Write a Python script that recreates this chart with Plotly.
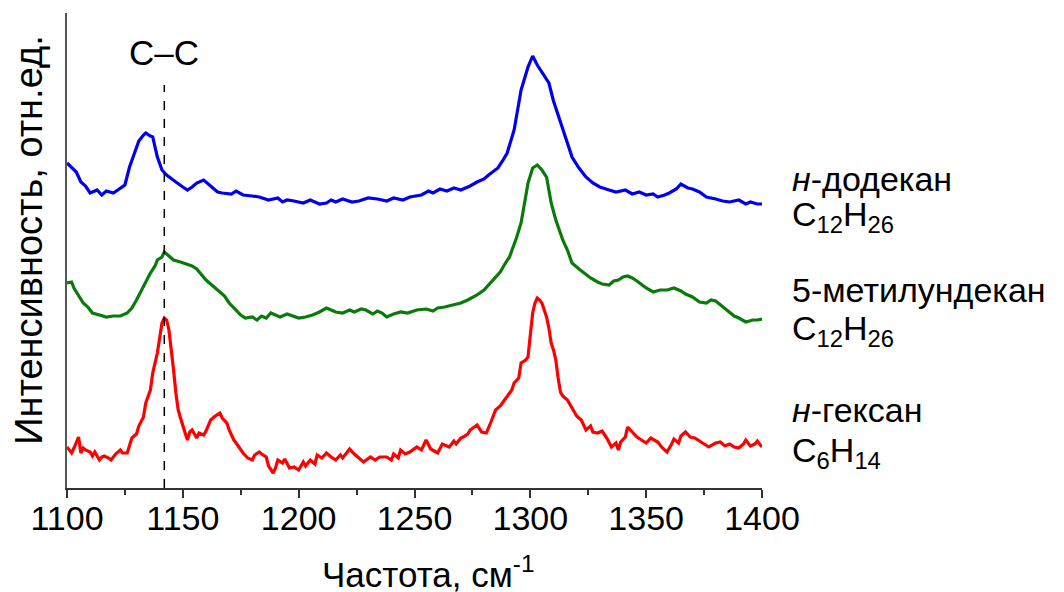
import plotly.graph_objects as go

# Wavenumber axis values (cm^-1) and intensities (arb. units, offset stacked)
dodecane_x = [1100,1102,1104,1106,1108,1110,1113,1115,1117,1120,1123,1125,1127,1129,1131,1133,1134,1136,1137,1139,1141,1143,1145,1147,1150,1152,1154,1156,1159,1161,1163,1165,1167,1171,1173,1176,1180,1183,1187,1191,1193,1195,1198,1202,1205,1209,1212,1214,1216,1219,1223,1226,1230,1234,1238,1241,1245,1248,1253,1256,1258,1261,1264,1267,1270,1274,1277,1280,1282,1286,1288,1290,1293,1296,1299,1301,1303,1306,1308,1310,1314,1318,1321,1324,1327,1330,1334,1337,1341,1344,1347,1350,1353,1355,1358,1360,1363,1365,1368,1370,1373,1376,1380,1383,1386,1390,1393,1395,1398,1400]
dodecane_y = [325,320,316,306,302,295,298,293,297,295,300,303,321,335,347,353,355,352,351,331,318,313,309,306,301,298,301,305,308,304,301,296,295,294,297,293,292,291,288,290,286,288,287,285,288,284,285,288,286,289,286,287,290,289,287,290,288,291,293,297,295,299,297,300,298,302,306,309,313,320,327,335,358,398,421,432,423,413,405,387,358,331,320,311,305,301,298,296,298,294,296,293,294,291,293,295,299,304,300,299,296,291,289,287,286,288,284,286,284,284]

methylundecane_x = [1100,1102,1103,1105,1107,1109,1111,1114,1117,1120,1123,1126,1128,1130,1132,1134,1136,1138,1139,1141,1142,1144,1146,1149,1152,1154,1156,1158,1160,1163,1166,1168,1170,1173,1175,1177,1180,1182,1184,1186,1188,1190,1192,1195,1198,1200,1203,1206,1209,1212,1214,1216,1219,1222,1224,1227,1229,1232,1234,1236,1238,1241,1244,1247,1251,1255,1258,1260,1263,1265,1268,1270,1273,1277,1280,1283,1285,1287,1289,1291,1294,1296,1299,1301,1303,1305,1307,1309,1311,1314,1316,1318,1321,1323,1326,1329,1331,1334,1336,1338,1340,1342,1344,1346,1348,1350,1353,1356,1359,1362,1365,1367,1370,1373,1376,1378,1380,1383,1386,1388,1390,1393,1396,1398,1400]
methylundecane_y = [205,206,200,192,185,181,175,173,171,172,172,175,180,188,197,206,215,222,228,231,236,232,228,226,224,222,219,214,208,202,196,192,185,178,173,170,171,168,172,170,175,173,171,174,172,170,171,173,176,180,178,176,175,178,176,179,178,174,177,175,171,174,176,175,178,179,177,180,181,182,184,185,188,193,198,206,211,216,224,231,250,265,305,320,323,318,311,285,268,248,238,225,219,215,210,206,204,203,207,208,211,212,210,207,203,200,196,198,198,200,197,194,191,186,185,188,187,181,176,172,170,166,168,168,169]

hexane_x = [1100,1101,1102,1103,1104,1105,1106,1107,1108,1110,1111,1112,1114,1115,1116,1118,1119,1121,1123,1124,1126,1127,1128,1130,1131,1133,1134,1136,1137,1139,1140,1141,1142,1143,1144,1145,1146,1147,1148,1149,1150,1151,1152,1153,1154,1156,1157,1159,1160,1162,1164,1166,1167,1169,1170,1172,1173,1175,1176,1178,1180,1181,1183,1184,1186,1187,1189,1190,1191,1193,1194,1196,1198,1200,1202,1203,1205,1207,1208,1210,1212,1214,1216,1218,1219,1221,1222,1224,1226,1228,1231,1233,1235,1238,1240,1241,1243,1244,1246,1248,1251,1253,1255,1257,1260,1262,1265,1267,1268,1270,1271,1273,1274,1276,1277,1279,1281,1283,1285,1287,1290,1292,1293,1295,1296,1298,1299,1300,1301,1302,1303,1304,1305,1306,1307,1308,1309,1310,1311,1312,1313,1314,1316,1318,1320,1322,1324,1326,1327,1329,1331,1333,1335,1337,1338,1339,1341,1342,1344,1346,1348,1350,1352,1355,1357,1359,1361,1362,1364,1365,1367,1369,1371,1373,1375,1377,1380,1382,1384,1386,1388,1390,1392,1393,1395,1397,1398,1400]
hexane_y = [41,38,35,40,45,51,35,40,38,36,32,36,28,31,32,30,28,34,38,35,35,44,50,54,62,71,85,98,115,135,150,165,170,168,158,140,118,95,78,70,61,55,48,56,58,50,55,53,57,68,72,75,70,65,58,48,45,38,35,30,28,33,36,34,31,22,15,20,28,25,29,20,21,18,26,22,28,24,33,30,35,31,28,33,30,36,39,34,30,26,31,28,31,31,28,34,30,38,34,36,41,38,48,39,35,44,41,47,44,50,51,54,58,62,63,56,55,66,78,82,91,98,105,110,125,128,131,150,175,185,190,188,185,178,171,160,145,138,128,110,96,92,88,80,72,68,58,62,56,55,57,50,41,45,38,46,51,61,56,51,48,45,50,46,40,36,44,49,45,52,56,51,50,47,44,41,45,46,42,44,41,40,44,48,42,44,47,41,46,41]

# Annotation texts
label_cc = "C–C"
cc_position = 1142
labels_right = [
    ("<i>н</i>-додекан", 0.651),
    ("C<sub>12</sub>H<sub>26</sub>", 0.571),
    ("5-метилундекан", 0.416),
    ("C<sub>12</sub>H<sub>26</sub>", 0.331),
    ("<i>н</i>-гексан", 0.164),
    ("C<sub>6</sub>H<sub>14</sub>", 0.075),
]
x_ticks = [1100, 1150, 1200, 1250, 1300, 1350, 1400]

FONT = "Liberation Sans, Arial, sans-serif"

fig = go.Figure()
fig.add_trace(go.Scatter(x=dodecane_x, y=dodecane_y, mode="lines",
                         line=dict(color="#0000ee", width=3.2), showlegend=False))
fig.add_trace(go.Scatter(x=methylundecane_x, y=methylundecane_y, mode="lines",
                         line=dict(color="#0a7a0a", width=3.2), showlegend=False))
fig.add_trace(go.Scatter(x=hexane_x, y=hexane_y, mode="lines",
                         line=dict(color="#ff0000", width=3.2), showlegend=False))

# dashed C-C marker
fig.add_trace(go.Scatter(x=[cc_position, cc_position], y=[0, 403], mode="lines",
                         line=dict(color="black", width=1.5, dash="dash"),
                         showlegend=False, hoverinfo="skip"))

annotations = [
    dict(x=cc_position, y=436, xref="x", yref="y", text=label_cc, showarrow=False,
         font=dict(size=35, color="black", family=FONT), xanchor="center", yanchor="middle"),
    dict(x=-0.055, y=0.522, xref="paper", yref="paper", text="Интенсивность, отн.ед.",
         showarrow=False, textangle=-90, font=dict(size=38, color="black", family=FONT),
         xanchor="center", yanchor="middle"),
    dict(x=0.5, y=-0.176, xref="paper", yref="paper", text="Частота, см<sup>-1</sup>",
         showarrow=False, font=dict(size=35, color="black", family=FONT),
         xanchor="center", yanchor="middle", xshift=14),
]
for txt, yp in labels_right:
    annotations.append(dict(x=1.041, y=yp, xref="paper", yref="paper", text=txt,
                            showarrow=False, xanchor="left", yanchor="middle",
                            font=dict(size=34, color="black", family=FONT)))

# The page body has an 8px default margin; margins compensate so the plot area
# lands on screen at x 67..762, y 13..488.
fig.update_layout(
    width=1064, height=592,
    margin=dict(l=59, r=310, t=5, b=112, autoexpand=False),
    plot_bgcolor="white", paper_bgcolor="white",
    font=dict(family=FONT, color="black"),
    annotations=annotations,
    xaxis=dict(range=[1100, 1400], tickvals=x_ticks, ticks="outside", ticklen=8,
               tickwidth=1.5, tickcolor="#333", showline=True, linecolor="#333", linewidth=2,
               showgrid=False, zeroline=False, tickfont=dict(size=34, family=FONT),
               automargin=False, ticklabelstandoff=-9,
               minor=dict(ticks="outside", ticklen=5, tickwidth=1.5, tickcolor="#333", dtick=25)),
    yaxis=dict(range=[0, 475], showticklabels=False, ticks="", showline=True, automargin=False,
               linecolor="#555", linewidth=2, showgrid=False, zeroline=False),
)

fig.write_html("out.html")
